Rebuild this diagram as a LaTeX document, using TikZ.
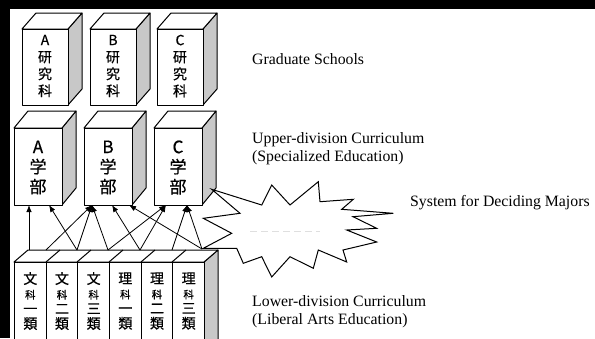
\documentclass[tikz,border=0pt]{standalone}
\usepackage{fontspec}
\setmainfont{Liberation Serif}
\newfontfamily\cjk[FakeBold=0.6]{Noto Sans CJK JP}
\usetikzlibrary{arrows.meta}
\definecolor{sidegray}{RGB}{200,200,200}
\tikzset{
  face/.style={draw, line width=1pt, fill=white, line join=round},
  sideface/.style={draw, line width=1pt, fill=sidegray, line join=round},
  arr/.style={-{Latex[length=7pt,width=5.5pt]}, line width=0.8pt},
  caption/.style={anchor=west, align=left, inner sep=0pt, font=\fontsize{15.8}{18}\selectfont}
}

\begin{document}
\begin{tikzpicture}[x=1pt,y=-1pt]
  \fill[black] (0,0) rectangle (595,338);
  \fill[white] (10,9) rectangle (595,338);
  \useasboundingbox (0,0) rectangle (595,338);
  \clip (0,0) rectangle (595,338);

  % graduate schools
  \foreach \n/\cx in {A/45, B/113, C/180} {
    \draw[sideface] (\cx+23,29) -- ++(14,-16) -- ++(0,76) -- ++(-14,16) -- cycle;
    \draw[face] (\cx-23,29) -- ++(14,-16) -- ++(46,0) -- ++(-14,16) -- cycle;
    \node[face, minimum width=46pt, minimum height=76pt, anchor=north] (g\n) at (\cx,29) {};
    \node[align=center, font=\cjk\fontsize{14}{17}\selectfont] (gt\n) at (\cx,66) {\n\\研\\究\\科};
  }

  % faculties
  \foreach \n/\cx in {A/38, B/108, C/178} {
    \draw[sideface] (\cx+24,128) -- ++(14,-17) -- ++(0,77) -- ++(-14,17) -- cycle;
    \draw[face] (\cx-24,128) -- ++(14,-17) -- ++(48,0) -- ++(-14,17) -- cycle;
    \node[face, minimum width=48pt, minimum height=77pt, anchor=north] (u\n) at (\cx,128) {};
    \node[align=center, font=\cjk\fontsize{17}{20}\selectfont] (ut\n) at (\cx,167.5) {\n\\学\\部};
  }

  % first two years
  \draw[sideface] (204,262) -- ++(14,-12) -- (218,345) -- (204,345) -- cycle;
  \draw[face] (14,262) -- ++(14,-12) -- ++(190,0) -- ++(-14,12) -- cycle;
  \foreach \x in {46,77,109,141,172}
    \draw[line width=1pt] (\x,262) -- ++(14,-12);
  \foreach \i/\a/\b in {0/文/一, 1/文/二, 2/文/三, 3/理/一, 4/理/二, 5/理/三} {
    \node[face, minimum width=31.67pt, minimum height=90pt, anchor=north west] (l\i) at (14+31.67*\i,262) {};
    \node[align=center, font=\cjk\fontsize{14}{15}\selectfont] (lt\i) at (l\i.center |- 0,301)
      {\a\\{\fontsize{10.5}{15}\selectfont 科}\\\b\\類};
  }

  % ends of the arrows
  \coordinate (s1) at (29,250);
  \coordinate (s2) at (46,250);
  \coordinate (s3) at (77,250);
  \coordinate (s4) at (108,250);
  \coordinate (s5) at (140,250);
  \coordinate (s6) at (172,250);
  \coordinate (s7) at (202,249);
  \coordinate (tA1) at (29,205);
  \coordinate (tA2) at (49,205);
  \coordinate (tB1) at (92,205);
  \coordinate (tB2) at (112,205);
  \coordinate (tB3) at (129,205);
  \coordinate (tC1) at (166,205);
  \coordinate (tC2) at (187,205);

  % system for deciding majors
  \draw[line width=1pt, fill=white, line join=miter]
    (211.7,189.3) -- (261.7,205) -- (271.7,185) -- (290,205) -- (318.3,181.7)
    -- (320,201.7) -- (353.3,199.3) -- (341.7,209.3) -- (393.3,213.3)
    -- (353,216.7) -- (376.7,228.3) -- (346.7,230) -- (376.7,242)
    -- (343,250) -- (346.7,262) -- (318.3,250) -- (313.3,268.3)
    -- (290,256.7) -- (271.7,277) -- (261.7,256.7) -- (243.3,263.3)
    -- (236.7,248.3) -- (203.3,248.3) -- (231.7,233.3) -- (203.3,218.3)
    -- (240,213.3) -- cycle;
  \draw[gray!25, line width=0.8pt, dash pattern=on 7pt off 4pt] (250,231.7) -- (320,231.7);

  \foreach \a/\b in {s1/tA1, s2/tB1, s3/tA2, s3/tB1, s4/tB1, s4/tC1,
                     s5/tB2, s5/tC1, s6/tC2, s7/tB3, s7/tC2}
    \draw[arr] (\a) -- (\b);

  \node[caption] (grad) at (252,59) {Graduate Schools};
  \node[caption] (upper) at (252,149) {Upper-division Curriculum\\(Specialized Education)};
  \node[caption] (major) at (410,203) {System for Deciding Majors};
  \node[caption, font=\fontsize{15.8}{17.5}\selectfont] (lower) at (252,311.5)
    {Lower-division Curriculum\\(Liberal Arts Education)};
\end{tikzpicture}
\end{document}
